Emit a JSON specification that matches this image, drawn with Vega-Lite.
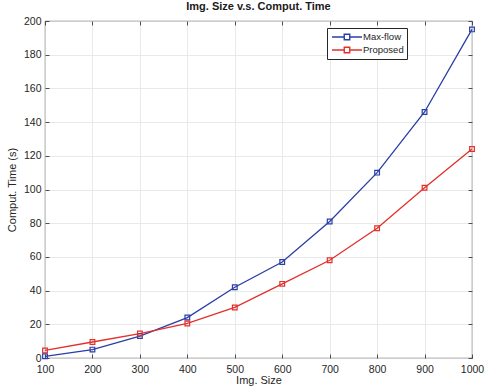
{
  "$schema": "https://vega.github.io/schema/vega-lite/v6.json",
  "autosize": "none",
  "width": 427,
  "height": 337,
  "padding": {"left": 45, "top": 21, "right": 19, "bottom": 29},
  "background": "white",
  "config": {
    "font": "Liberation Sans",
    "view": {"stroke": "#262626", "strokeWidth": 0.8},
    "axis": {
      "domain": false,
      "gridColor": "#e3e3e3",
      "gridWidth": 0.8,
      "tickColor": "#262626",
      "tickSize": -4,
      "tickWidth": 0.8,
      "labelColor": "#262626",
      "labelFontSize": 10.5,
      "titleColor": "#262626",
      "titleFontSize": 11,
      "titleFontWeight": "normal"
    }
  },
  "title": {
    "text": "Img. Size v.s. Comput. Time",
    "fontSize": 11,
    "fontWeight": "bold",
    "color": "#1a1a1a",
    "offset": 4,
    "anchor": "middle"
  },
  "data": {
    "values": [
      {"size": 100, "method": "Max-flow", "time": 1},
      {"size": 200, "method": "Max-flow", "time": 5},
      {"size": 300, "method": "Max-flow", "time": 13},
      {"size": 400, "method": "Max-flow", "time": 24},
      {"size": 500, "method": "Max-flow", "time": 42},
      {"size": 600, "method": "Max-flow", "time": 57},
      {"size": 700, "method": "Max-flow", "time": 81},
      {"size": 800, "method": "Max-flow", "time": 110},
      {"size": 900, "method": "Max-flow", "time": 146},
      {"size": 1000, "method": "Max-flow", "time": 195},
      {"size": 100, "method": "Proposed", "time": 4.5},
      {"size": 200, "method": "Proposed", "time": 9.5},
      {"size": 300, "method": "Proposed", "time": 14.5},
      {"size": 400, "method": "Proposed", "time": 20.5},
      {"size": 500, "method": "Proposed", "time": 30},
      {"size": 600, "method": "Proposed", "time": 44},
      {"size": 700, "method": "Proposed", "time": 58},
      {"size": 800, "method": "Proposed", "time": 77},
      {"size": 900, "method": "Proposed", "time": 101},
      {"size": 1000, "method": "Proposed", "time": 124}
    ]
  },
  "layer": [
    {
      "mark": {"type": "line", "strokeWidth": 1.3, "point": {"shape": "square", "filled": false, "size": 22, "strokeWidth": 1.2}},
      "encoding": {
        "x": {
          "field": "size", "type": "quantitative",
          "scale": {"domain": [100, 1000], "nice": false, "zero": false},
          "axis": {"values": [100,200,300,400,500,600,700,800,900,1000], "format": "d", "title": "Img. Size", "labelPadding": 10, "titlePadding": 0, "labelFlush": false}
        },
        "y": {
          "field": "time", "type": "quantitative",
          "scale": {"domain": [0, 200], "nice": false},
          "axis": {"values": [0,20,40,60,80,100,120,140,160,180,200], "title": "Comput. Time (s)", "labelPadding": 8, "titlePadding": 6}
        },
        "color": {
          "field": "method", "type": "nominal",
          "scale": {"domain": ["Max-flow", "Proposed"], "range": ["#2a3ea6", "#e3302b"]},
          "legend": {
            "title": null,
            "orient": "none",
            "legendX": 282,
            "legendY": 7,
            "fillColor": "white",
            "strokeColor": "#262626",
            "padding": 3,
            "cornerRadius": 0,
            "symbolType": "M-3,0H-0.55M0.55,0H3M-0.55,-0.55H0.55V0.55H-0.55Z",
            "symbolSize": 100,
            "symbolOffset": 11,
            "symbolStrokeWidth": 1.4,
            "symbolFillColor": "transparent",
            "labelFontSize": 9.5,
            "labelColor": "#262626",
            "labelOffset": 10,
            "rowPadding": 1
          }
        }
      }
    },
    {
      "mark": {"type": "rule", "opacity": 0},
      "encoding": {
        "x": {"field": "size", "type": "quantitative", "axis": {"orient": "top", "values": [100,200,300,400,500,600,700,800,900,1000], "labels": false, "title": null, "grid": false}},
        "y": {"field": "time", "type": "quantitative", "axis": {"orient": "right", "values": [0,20,40,60,80,100,120,140,160,180,200], "labels": false, "title": null, "grid": false}}
      }
    }
  ],
  "resolve": {"axis": {"x": "independent", "y": "independent"}}
}
